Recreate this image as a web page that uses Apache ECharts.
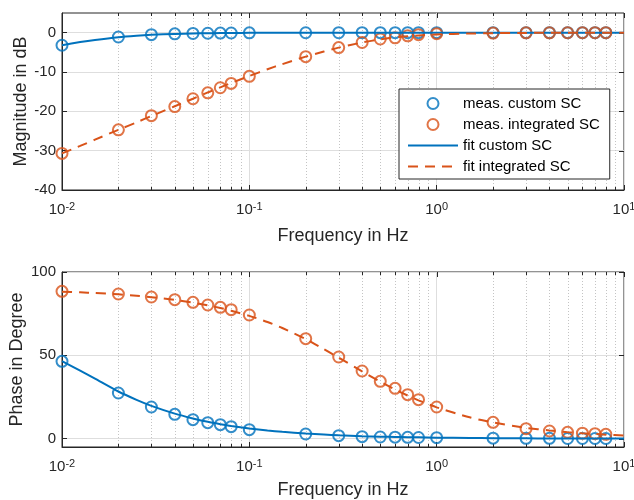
<!DOCTYPE html>
<html>
<head>
<meta charset="utf-8">
<script src="https://cdn.jsdelivr.net/npm/echarts@6/dist/echarts.min.js"></script>
<style>
  html, body { margin: 0; padding: 0; background: #fff; }
  #chart { width: 634px; height: 500px; }
</style>
</head>
<body>
<div id="chart"></div>
<script>
// Measurement frequencies (Hz)
const measFreq = [0.01, 0.02, 0.03, 0.04, 0.05, 0.06, 0.07, 0.08, 0.1,
  0.2, 0.3, 0.4, 0.5, 0.6, 0.7, 0.8, 1, 2, 3, 4, 5, 6, 7, 8];
// Measured magnitude (dB)
const measMagCustom = [-3.2, -1.1, -0.5, -0.3, -0.2, -0.15, -0.1, -0.08, -0.05,
  -0.02, -0.01, 0, 0, 0, 0, 0, 0, 0, 0, 0, 0, 0, 0, 0];
const measMagIntegrated = [-30.7, -24.7, -21.1, -18.8, -16.8, -15.3, -14.0, -12.9, -11.1,
  -6.1, -3.8, -2.5, -1.6, -1.3, -0.8, -0.5, -0.25, -0.1, -0.05, -0.03, -0.02, -0.02, -0.01, -0.01];
// Measured phase (degree)
const measPhaseCustom = [46.4, 27.4, 19.0, 14.6, 11.4, 9.6, 8.4, 7.2, 5.4,
  2.8, 1.8, 1.2, 1.0, 0.9, 0.8, 0.7, 0.6, 0.3, 0.2, 0.2, 0.1, 0.1, 0.1, 0.1];
const measPhaseIntegrated = [88.4, 86.8, 85.0, 83.4, 81.8, 80.2, 78.8, 77.4, 74.2,
  60.0, 49.0, 40.6, 34.4, 30.2, 26.4, 23.4, 19.0, 9.8, 6.0, 4.6, 3.8, 3.3, 3.0, 2.6];

// Fitted model curves
const fitFreq = [0.01, 0.0125, 0.015, 0.02, 0.025, 0.03, 0.04, 0.05, 0.06, 0.07, 0.08, 0.1,
  0.125, 0.15, 0.2, 0.25, 0.3, 0.4, 0.5, 0.6, 0.7, 0.8, 1, 1.5, 2, 3, 4, 5, 6, 7, 8, 10];
const fitMagCustom = [-3.2, -2.4, -1.85, -1.15, -0.78, -0.55, -0.32, -0.21, -0.14, -0.1, -0.08, -0.05,
  -0.03, -0.02, -0.01, -0.01, 0, 0, 0, 0, 0, 0, 0, 0, 0, 0, 0, 0, 0, 0, 0, 0];
const fitMagIntegrated = [-30.7, -28.8, -27.2, -24.7, -22.8, -21.2, -18.7, -16.8, -15.2, -13.9, -12.8, -11.0,
  -9.3, -8.0, -6.1, -4.8, -3.8, -2.5, -1.7, -1.2, -0.9, -0.7, -0.45, -0.22, -0.13, -0.06, -0.03,
  -0.02, -0.015, -0.01, -0.01, -0.005];
const fitPhaseCustom = [46.5, 40.8, 36.0, 28.3, 23.3, 19.7, 15.0, 12.1, 10.1, 8.7, 7.6, 6.1,
  4.9, 4.1, 3.1, 2.5, 2.0, 1.5, 1.2, 1.0, 0.9, 0.8, 0.6, 0.4, 0.3, 0.2, 0.15, 0.12, 0.1, 0.09, 0.08, 0.06];
const fitPhaseIntegrated = [88.2, 87.8, 87.4, 86.6, 85.8, 84.9, 83.3, 81.6, 80.0, 78.4, 76.8, 73.7,
  70.0, 66.4, 59.8, 53.7, 48.6, 40.4, 34.2, 29.5, 25.9, 23.0, 18.8, 12.8, 9.7, 6.5, 4.9,
  3.9, 3.2, 2.8, 2.4, 1.9];

// Axis ticks
const freqTicks = [0.01, 0.1, 1, 10];
const freqMinorTicks = [0.02, 0.03, 0.04, 0.05, 0.06, 0.07, 0.08, 0.09,
  0.2, 0.3, 0.4, 0.5, 0.6, 0.7, 0.8, 0.9, 2, 3, 4, 5, 6, 7, 8, 9];
const magTicks = [-40, -30, -20, -10, 0];
const phaseTicks = [0, 50, 100];

const C_BLUE = '#0072BD';
const C_ORANGE = '#D95319';
const C_TEXT = '#262626';
const FONT = '"Liberation Sans", Arial, Helvetica, sans-serif';

const X_MIN = 0.01, X_MAX = 10;
const MAG_MIN = -40, MAG_MAX = 5;
const PH_MIN = -5, PH_MAX = 100;

const pairs = (xs, ys) => xs.map((x, i) => [x, ys[i]]);

function freqAxis(gridIndex, name, nameGap) {
  return {
    type: 'log', logBase: 10, gridIndex, position: 'bottom',
    min: X_MIN, max: X_MAX,
    name, nameLocation: 'middle', nameGap, nameMoveOverlap: false,
    nameTextStyle: { fontFamily: FONT, fontSize: 18, color: C_TEXT },
    axisLine: { show: true, onZero: false, lineStyle: { color: C_TEXT, width: 1 } },
    axisTick: { show: true, inside: true, length: 5, customValues: freqTicks,
      lineStyle: { color: C_TEXT } },
    minorTick: { show: false },
    splitLine: { show: true, lineStyle: { color: '#dedede', width: 1 } },
    axisLabel: {
      margin: 11, customValues: freqTicks,
      formatter: v => '{b|10}{s|' + Math.round(Math.log10(v)) + '}',
      rich: {
        b: { fontFamily: FONT, fontSize: 15, color: C_TEXT, lineHeight: 16, verticalAlign: 'bottom' },
        s: { fontFamily: FONT, fontSize: 11, color: C_TEXT, lineHeight: 16, verticalAlign: 'top' }
      }
    }
  };
}

function valueAxis(gridIndex, min, max, ticks, name, nameGap) {
  return {
    type: 'value', gridIndex, position: 'left', min, max,
    name, nameLocation: 'middle', nameGap, nameMoveOverlap: false,
    nameTextStyle: { fontFamily: FONT, fontSize: 18, color: C_TEXT },
    axisLine: { show: true, onZero: false, lineStyle: { color: C_TEXT, width: 1 } },
    axisTick: { show: true, inside: true, length: 5, customValues: ticks,
      lineStyle: { color: C_TEXT } },
    splitLine: { show: true, lineStyle: { color: '#dedede', width: 1 } },
    axisLabel: { margin: 6, customValues: ticks,
      fontFamily: FONT, fontSize: 15, color: C_TEXT }
  };
}

// Box decorations: dotted minor grid, minor ticks on bottom/top edges,
// major ticks mirrored on the top and right edges.
function boxSeries(idx, yMin, yMax, yTicks) {
  const items = []
    .concat(freqMinorTicks.map(v => [v, yMin, 0]))
    .concat(freqTicks.map(v => [v, yMin, 1]))
    .concat(yTicks.map(v => [X_MAX, v, 2]));
  const crisp = v => Math.round(v) + 0.5;
  const seg = (x1, y1, x2, y2, style) => ({ type: 'line', shape: { x1, y1, x2, y2 }, style });
  const tickStyle = { stroke: C_TEXT, lineWidth: 1 };
  return {
    type: 'custom', name: 'box', xAxisIndex: idx, yAxisIndex: idx,
    silent: true, z: 1, clip: false,
    data: items,
    encode: { x: 0, y: 1 },
    renderItem: (params, api) => {
      const kind = api.value(2);
      if (kind === 2) {
        const p = api.coord([X_MAX, api.value(1)]);
        const y = crisp(p[1]);
        return seg(p[0], y, p[0] - 5, y, tickStyle);
      }
      const x = api.value(0);
      const pb = api.coord([x, yMin]);
      const pt = api.coord([x, yMax]);
      const px = crisp(pb[0]);
      if (kind === 1) {
        return seg(px, pt[1], px, pt[1] + 5, tickStyle);
      }
      return {
        type: 'group',
        children: [
          seg(px, pb[1], px, pt[1], { stroke: '#c4c4c4', lineWidth: 1, lineDash: [1, 2] }),
          seg(px, pb[1], px, pb[1] - 3, tickStyle),
          seg(px, pt[1], px, pt[1] + 3, tickStyle)
        ]
      };
    }
  };
}

function measSeries(name, color, idx, ys) {
  return {
    type: 'scatter', name, xAxisIndex: idx, yAxisIndex: idx, z: 3,
    symbol: 'circle', symbolSize: 11,
    itemStyle: { color: 'rgba(255,255,255,0)', borderColor: color, borderWidth: 2 },
    data: pairs(measFreq, ys)
  };
}

function fitSeries(name, color, dashed, idx, ys) {
  return {
    type: 'line', name, xAxisIndex: idx, yAxisIndex: idx, z: 4,
    symbol: 'none', smooth: 0.2,
    lineStyle: { color, width: 2, type: dashed ? [10, 7] : 'solid' },
    itemStyle: { color },
    data: pairs(fitFreq, ys)
  };
}

const hiddenMark = { color: 'rgba(0,0,0,0)', borderWidth: 0, opacity: 0 };
const gridBox = {
  show: true, borderColor: C_TEXT, borderWidth: 1, backgroundColor: 'rgba(0,0,0,0)',
  containLabel: false, outerBoundsMode: 'none'
};

const chart = echarts.init(document.getElementById('chart'), null, { renderer: 'canvas' });
chart.setOption({
  animation: false,
  backgroundColor: '#fff',
  textStyle: { fontFamily: FONT },
  grid: [
    Object.assign({ left: 62, right: 10, top: 13, height: 177 }, gridBox),
    Object.assign({ left: 62, right: 10, top: 272, height: 175 }, gridBox)
  ],
  xAxis: [
    freqAxis(0, 'Frequency in Hz', 37),
    freqAxis(1, 'Frequency in Hz', 34)
  ],
  yAxis: [
    valueAxis(0, MAG_MIN, MAG_MAX, magTicks, 'Magnitude in dB', 32),
    valueAxis(1, PH_MIN, PH_MAX, phaseTicks, 'Phase in Degree', 36)
  ],
  legend: {
    orient: 'vertical', left: 399, top: 89,
    padding: [7, 10, 5, 8], itemGap: 6, itemWidth: 50, itemHeight: 11,
    backgroundColor: '#fff', borderColor: C_TEXT, borderWidth: 1, borderRadius: 0,
    textStyle: { fontFamily: FONT, fontSize: 15, color: '#000' },
    data: [
      { name: 'meas. custom SC', itemStyle: { color: 'rgba(255,255,255,0)', borderColor: C_BLUE, borderWidth: 2 } },
      { name: 'meas. integrated SC', itemStyle: { color: 'rgba(255,255,255,0)', borderColor: C_ORANGE, borderWidth: 2 } },
      { name: 'fit custom SC', itemStyle: hiddenMark },
      { name: 'fit integrated SC', itemStyle: hiddenMark }
    ]
  },
  series: [
    boxSeries(0, MAG_MIN, MAG_MAX, magTicks),
    measSeries('meas. custom SC', C_BLUE, 0, measMagCustom),
    measSeries('meas. integrated SC', C_ORANGE, 0, measMagIntegrated),
    fitSeries('fit custom SC', C_BLUE, false, 0, fitMagCustom),
    fitSeries('fit integrated SC', C_ORANGE, true, 0, fitMagIntegrated),

    boxSeries(1, PH_MIN, PH_MAX, phaseTicks),
    measSeries('meas. custom SC', C_BLUE, 1, measPhaseCustom),
    measSeries('meas. integrated SC', C_ORANGE, 1, measPhaseIntegrated),
    fitSeries('fit custom SC', C_BLUE, false, 1, fitPhaseCustom),
    fitSeries('fit integrated SC', C_ORANGE, true, 1, fitPhaseIntegrated)
  ]
});
</script>
</body>
</html>
